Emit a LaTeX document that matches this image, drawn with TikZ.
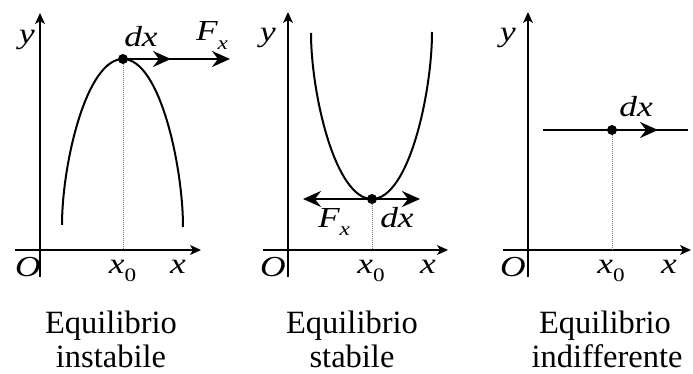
\documentclass[tikz,border=0pt]{standalone}
\usepackage{fontspec}
\usepackage{graphicx}
\setmainfont{Liberation Serif}
\usetikzlibrary{arrows.meta}
\newcommand\subup[1]{\raisebox{-0.3em}{\fontsize{19}{19}\selectfont\upshape #1}}
\newcommand\subit[1]{\raisebox{-0.3em}{\fontsize{19}{19}\selectfont\itshape #1}}
\newcommand\widelab[1]{\scalebox{1.22}[1]{#1}}
\begin{document}
\begin{tikzpicture}[x=1pt,y=-1pt,
  axisline/.style={line width=1.1pt,-{Stealth[length=11pt,width=10pt,inset=3pt]}},
  curveline/.style={line width=2pt},
  vecline/.style={line width=2.4pt,-{Stealth[length=18pt,width=16pt,inset=6pt]}},
  guideline/.style={gray,line width=0.6pt,dash pattern=on 1pt off 1pt},
  dotnode/.style={circle,fill=black,inner sep=0pt,minimum size=10pt},
  labtext/.style={font=\fontsize{29}{29}\selectfont\itshape,inner sep=0pt,anchor=base},
  captext/.style={font=\fontsize{32.5}{35}\selectfont,inner sep=0pt,anchor=base}]
\useasboundingbox (0,0) rectangle (693,374);

% ---------- panel 1: unstable ----------
\coordinate (x1s) at (15,250); \coordinate (x1e) at (201,250);
\coordinate (y1s) at (40,277); \coordinate (y1e) at (40,13);
\coordinate (a1) at (62,225); \coordinate (b1) at (183,227);
\coordinate (f1) at (123,250);
\coordinate (m1) at (171,59); \coordinate (e1) at (230,59);
\draw[axisline] (x1s) -- (x1e);
\draw[axisline] (y1s) -- (y1e);
\node[dotnode] (v1) at (123,59) {};
\draw[guideline] (v1) -- (f1);
\draw[curveline] (a1) .. controls (62,165) and (86,59) .. (v1.center)
  .. controls (160,59) and (183,167) .. (b1);
\draw[vecline] (v1.center) -- (e1);
\draw[vecline] (v1.center) -- (m1);
\node[labtext] (ly1) at (27,44) {\widelab{y}};
\node[labtext] (lo1) at (28,276) {\widelab{O}};
\node[labtext] (lx01) at (122.5,273) {\widelab{x\subup{0}}};
\node[labtext] (lx1) at (178,273) {\widelab{x}};
\node[labtext] (ldx1) at (141,47) {\widelab{dx}};
\node[labtext] (lF1) at (212,41) {\widelab{F\subit{x}}};
\node[captext] (c1a) at (111,333) {Equilibrio};
\node[captext] (c1b) at (111,367) {instabile};

% ---------- panel 2: stable ----------
\coordinate (x2s) at (263,250); \coordinate (x2e) at (448,250);
\coordinate (y2s) at (288,277); \coordinate (y2e) at (288,12);
\coordinate (a2) at (311,33); \coordinate (b2) at (432,32);
\coordinate (f2) at (372,250);
\coordinate (l2) at (303,199); \coordinate (r2) at (420,199);
\draw[axisline] (x2s) -- (x2e);
\draw[axisline] (y2s) -- (y2e);
\node[dotnode] (v2) at (372,199) {};
\draw[guideline] (v2) -- (f2);
\draw[curveline] (a2) .. controls (311,93) and (335,199) .. (v2.center)
  .. controls (409,199) and (432,92) .. (b2);
\draw[vecline] (v2.center) -- (l2);
\draw[vecline] (v2.center) -- (r2);
\node[labtext] (ly2) at (268,42) {\widelab{y}};
\node[labtext] (lo2) at (273,276) {\widelab{O}};
\node[labtext] (lx02) at (371,273) {\widelab{x\subup{0}}};
\node[labtext] (lx2) at (428,273) {\widelab{x}};
\node[labtext] (lF2) at (334,227) {\widelab{F\subit{x}}};
\node[labtext] (ldx2) at (397,227) {\widelab{dx}};
\node[captext] (c2a) at (352,333) {Equilibrio};
\node[captext] (c2b) at (352,367) {stabile};

% ---------- panel 3: indifferent ----------
\coordinate (x3s) at (503,250); \coordinate (x3e) at (691,250);
\coordinate (y3s) at (528,277); \coordinate (y3e) at (528,12);
\coordinate (a3) at (543,130); \coordinate (b3) at (688,130);
\coordinate (f3) at (612,250);
\coordinate (m3) at (658,130);
\draw[axisline] (x3s) -- (x3e);
\draw[axisline] (y3s) -- (y3e);
\node[dotnode] (v3) at (612,130) {};
\draw[guideline] (v3) -- (f3);
\draw[curveline] (a3) -- (b3);
\draw[vecline] (v3.center) -- (m3);
\node[labtext] (ly3) at (508,42) {\widelab{y}};
\node[labtext] (lo3) at (513,276) {\widelab{O}};
\node[labtext] (lx03) at (611,273) {\widelab{x\subup{0}}};
\node[labtext] (lx3) at (669,273) {\widelab{x}};
\node[labtext] (ldx3) at (636,117) {\widelab{dx}};
\node[captext] (c3a) at (605,333) {Equilibrio};
\node[captext] (c3b) at (607,367) {indifferente};
\end{tikzpicture}
\end{document}
